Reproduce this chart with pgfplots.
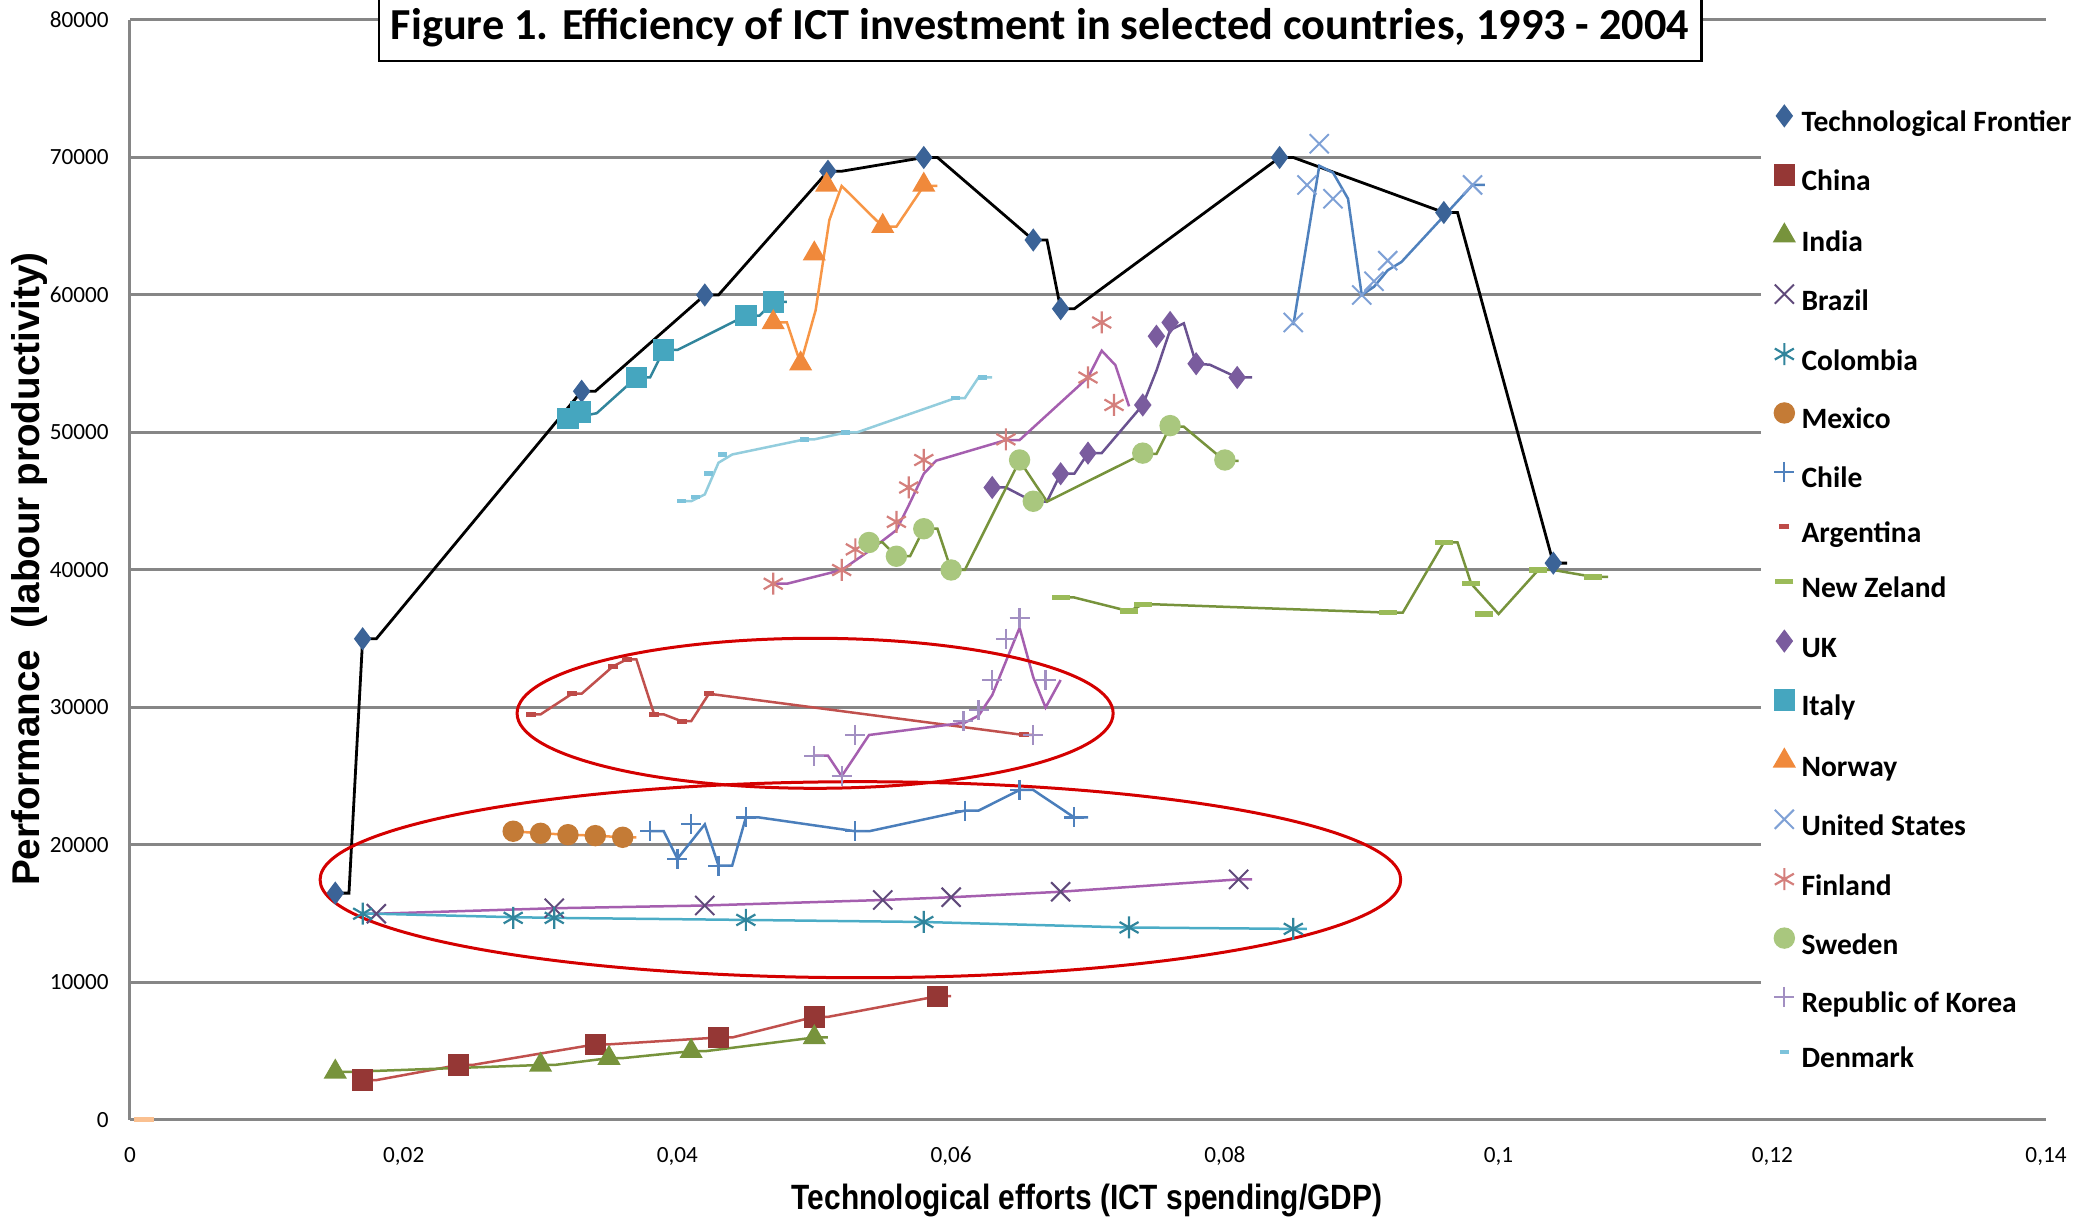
\documentclass[border=0pt]{standalone}
\usepackage{fontspec}
\setmainfont{Carlito}
\newfontfamily\arialfont{Liberation Sans}
\newfontfamily\narrowfont{Liberation Sans}[FakeStretch=0.85]
\usepackage{pgfplots}
\pgfplotsset{compat=1.18}
\definecolor{gridgray}{HTML}{868686}
\definecolor{frontMk}{HTML}{3B6397}
\definecolor{chinaMk}{HTML}{953735}
\definecolor{chinaLn}{HTML}{C0504D}
\definecolor{indiaMk}{HTML}{77933C}
\definecolor{brazilMk}{HTML}{604A7B}
\definecolor{purpLn}{HTML}{A55FAF}
\definecolor{colMk}{HTML}{31859C}
\definecolor{colLn}{HTML}{4BACC6}
\definecolor{mexMk}{HTML}{C47B36}
\definecolor{mexLn}{HTML}{F79646}
\definecolor{chileMk}{HTML}{4F81BD}
\definecolor{chileLn}{HTML}{4A7EBB}
\definecolor{argMk}{HTML}{BE4B48}
\definecolor{nzMk}{HTML}{9BBB59}
\definecolor{greenLn}{HTML}{77933C}
\definecolor{ukMk}{HTML}{7A5C9E}
\definecolor{ukLn}{HTML}{6A5290}
\definecolor{italyMk}{HTML}{45A6BF}
\definecolor{italyLn}{HTML}{31859C}
\definecolor{norMk}{HTML}{F0893B}
\definecolor{norLn}{HTML}{F79646}
\definecolor{usMk}{HTML}{7FA1D6}
\definecolor{usLn}{HTML}{4F81BD}
\definecolor{finMk}{HTML}{D47F7C}
\definecolor{sweMk}{HTML}{A9C77E}
\definecolor{korMk}{HTML}{A28FC2}
\definecolor{denMk}{HTML}{7DC3DB}
\definecolor{denLn}{HTML}{93CDDD}
\definecolor{peach}{HTML}{FAC090}
\definecolor{ellRed}{HTML}{D40000}
\pgfplotsset{mk/.style={only marks, legend image code/.code={\draw[##1] plot coordinates {(0mm,0.9mm)}; \path (-1.1mm,0mm) (1.65mm,0mm);}}}
\begin{document}
\begin{tikzpicture}
\begin{axis}[name=ax,
  scale only axis, width=191.6mm, height=110mm,
  xmin=0, xmax=0.14, ymin=0, ymax=80000,
  clip=false,
  axis lines*=left,
  axis line style={gridgray, line width=0.3mm, -},
  major tick length=0pt,
  ymajorgrids, grid style={gridgray, line width=0.3mm},
  xtick={0,0.02,0.04,0.06,0.08,0.1,0.12,0.14},
  xticklabels={0,{0,02},{0,04},{0,06},{0,08},{0,1},{0,12},{0,14}},
  ytick={0,10000,20000,30000,40000,50000,60000,70000,80000},
  yticklabels={0,10000,20000,30000,40000,50000,60000,70000,80000},
  xticklabel style={font=\fontsize{6.6}{8}\selectfont, anchor=base, yshift=-4.3mm, inner sep=0pt},
  yticklabel style={font=\fontsize{6.6}{8}\selectfont, anchor=east, xshift=-2.06mm, inner sep=0pt},
  legend style={at={(rel axis cs:0.8507,0.936)}, anchor=north west, draw=none, fill=white,
    inner xsep=1.2mm, inner ysep=1.43mm, row sep=2.49mm,
    font=\bfseries\fontsize{8.4}{10}\selectfont,
    nodes={inner sep=0pt, text height=2.2mm, text depth=0.8mm}},
  legend cell align=left,
]
% Technological Frontier
\addplot[black, line width=0.28mm, forget plot] coordinates {(0.015,16500)(0.016,16500)(0.017,35000)(0.018,35000)(0.033,53000)(0.034,53000)(0.042,60000)(0.043,60000)(0.051,69000)(0.052,69000)(0.058,70000)(0.059,70000)(0.066,64000)(0.067,64000)(0.068,59000)(0.069,59000)(0.084,70000)(0.085,70000)(0.096,66000)(0.097,66000)(0.104,40500)(0.105,40500)};
\addplot[mk, mark=diamond*, mark size=1.05mm, color=frontMk] coordinates {(0.015,16500)(0.017,35000)(0.033,53000)(0.042,60000)(0.051,69000)(0.058,70000)(0.066,64000)(0.068,59000)(0.084,70000)(0.096,66000)(0.104,40500)};
\addlegendentry{Technological Frontier}
% China
\addplot[chinaLn, line width=0.25mm, forget plot] coordinates {(0.017,2900)(0.018,2900)(0.024,4000)(0.025,4000)(0.034,5500)(0.035,5500)(0.043,6000)(0.044,6000)(0.050,7500)(0.051,7500)(0.059,9000)(0.060,9000)};
\addplot[mk, mark=square*, mark size=1mm, color=chinaMk] coordinates {(0.017,2900)(0.024,4000)(0.034,5500)(0.043,6000)(0.050,7500)(0.059,9000)};
\addlegendentry{China}
% India
\addplot[greenLn, line width=0.25mm, forget plot] coordinates {(0.015,3500)(0.016,3500)(0.030,4000)(0.031,4000)(0.035,4500)(0.036,4500)(0.041,5000)(0.042,5000)(0.050,6000)(0.051,6000)};
\addplot[mk, mark=triangle*, mark size=1.2mm, color=indiaMk] coordinates {(0.015,3500)(0.030,4000)(0.035,4500)(0.041,5000)(0.050,6000)};
\addlegendentry{India}
% Brazil
\addplot[purpLn, line width=0.25mm, forget plot] coordinates {(0.017,15000)(0.018,15000)(0.031,15400)(0.042,15600)(0.055,16000)(0.060,16200)(0.068,16600)(0.081,17500)(0.082,17500)};
\addplot[mk, mark=x, mark size=1.35mm, color=brazilMk, mark options={line width=0.2mm}] coordinates {(0.018,15000)(0.031,15400)(0.042,15600)(0.055,16000)(0.060,16200)(0.068,16600)(0.081,17500)};
\addlegendentry{Brazil}
% Colombia
\addplot[colLn, line width=0.25mm, forget plot] coordinates {(0.017,15000)(0.018,15000)(0.028,14750)(0.031,14700)(0.045,14550)(0.058,14400)(0.073,14000)(0.085,13900)(0.086,13900)};
\addplot[mk, mark=asterisk, mark size=1.1mm, color=colMk, mark options={line width=0.22mm}] coordinates {(0.017,15000)(0.028,14700)(0.031,14700)(0.045,14550)(0.058,14400)(0.073,14000)(0.085,13900)};
\addlegendentry{Colombia}
% Mexico
\addplot[mexLn, line width=0.25mm, forget plot] coordinates {(0.028,21000)(0.030,20850)(0.032,20750)(0.034,20680)(0.036,20560)(0.037,20550)};
\addplot[mk, mark=*, mark size=1mm, color=mexMk] coordinates {(0.028,21000)(0.030,20850)(0.032,20750)(0.034,20680)(0.036,20560)};
\addlegendentry{Mexico}
% Chile
\addplot[chileLn, line width=0.25mm, forget plot] coordinates {(0.038,21000)(0.039,21000)(0.040,19000)(0.042,21500)(0.043,18500)(0.044,18500)(0.045,22000)(0.046,22000)(0.053,21000)(0.054,21000)(0.061,22500)(0.062,22500)(0.065,24000)(0.066,24000)(0.069,22000)(0.070,22000)};
\addplot[mk, mark=+, mark size=1mm, color=chileMk, mark options={line width=0.22mm}] coordinates {(0.038,21000)(0.040,19000)(0.041,21500)(0.043,18500)(0.045,22000)(0.053,21000)(0.061,22500)(0.065,24000)(0.069,22000)};
\addlegendentry{Chile}
% Argentina
\addplot[chinaLn, line width=0.25mm, forget plot] coordinates {(0.0293,29500)(0.0300,29500)(0.0323,31000)(0.0330,31000)(0.0353,33000)(0.0363,33500)(0.0370,33500)(0.0383,29500)(0.0390,29500)(0.0403,29000)(0.0410,29000)(0.0423,31000)(0.0653,28000)(0.0660,28000)};
\addplot[mk, mark=-, mark size=0.5mm, color=argMk, mark options={line width=0.5mm}] coordinates {(0.0293,29500)(0.0323,31000)(0.0353,33000)(0.0363,33500)(0.0383,29500)(0.0403,29000)(0.0423,31000)(0.0653,28000)};
\addlegendentry{Argentina}
% New Zeland
\addplot[greenLn, line width=0.25mm, forget plot] coordinates {(0.068,38000)(0.069,38000)(0.073,37000)(0.074,37500)(0.075,37500)(0.0919,36900)(0.093,36900)(0.096,42000)(0.097,42000)(0.098,39000)(0.100,36800)(0.1029,40000)(0.104,40000)(0.1069,39500)(0.108,39500)};
\addplot[mk, mark=-, mark size=0.9mm, color=nzMk, mark options={line width=0.55mm}] coordinates {(0.068,38000)(0.073,37000)(0.074,37500)(0.0919,36900)(0.096,42000)(0.098,39000)(0.0989,36800)(0.1029,40000)(0.1069,39500)};
\addlegendentry{New Zeland}
% UK
\addplot[ukLn, line width=0.25mm, forget plot] coordinates {(0.063,46000)(0.064,46000)(0.066,44970)(0.067,44970)(0.068,47000)(0.069,47000)(0.070,48500)(0.071,48500)(0.074,52000)(0.075,54500)(0.076,57450)(0.077,57940)(0.0779,55000)(0.0789,54930)(0.0809,54000)(0.082,54000)};
\addplot[mk, mark=diamond*, mark size=1.05mm, color=ukMk] coordinates {(0.063,46000)(0.068,47000)(0.070,48500)(0.074,52000)(0.075,57000)(0.076,58000)(0.0779,55000)(0.0809,54000)};
\addlegendentry{UK}
% Italy
\addplot[italyLn, line width=0.25mm, forget plot] coordinates {(0.032,51000)(0.0341,51400)(0.037,54000)(0.038,54000)(0.039,56000)(0.040,56000)(0.045,58500)(0.046,58500)(0.047,59500)(0.048,59500)};
\addplot[mk, mark=square*, mark size=1mm, color=italyMk] coordinates {(0.032,51000)(0.0329,51500)(0.037,54000)(0.039,56000)(0.045,58500)(0.047,59500)};
\addlegendentry{Italy}
% Norway
\addplot[norLn, line width=0.25mm, forget plot] coordinates {(0.047,58000)(0.048,58000)(0.049,55000)(0.0501,58900)(0.0511,65450)(0.052,67930)(0.055,64970)(0.056,64970)(0.058,67930)(0.059,67930)};
\addplot[mk, mark=triangle*, mark size=1.2mm, color=norMk] coordinates {(0.047,58000)(0.049,55000)(0.050,63000)(0.0509,68000)(0.055,65000)(0.058,68000)};
\addlegendentry{Norway}
% United States
\addplot[usLn, line width=0.25mm, forget plot] coordinates {(0.085,57800)(0.0869,69400)(0.0879,68900)(0.089,67000)(0.090,60000)(0.0909,60600)(0.0919,61800)(0.0929,62400)(0.0981,68000)(0.099,68000)};
\addplot[mk, mark=x, mark size=1.35mm, color=usMk, mark options={line width=0.2mm}] coordinates {(0.085,58000)(0.086,68000)(0.0869,71000)(0.0879,67000)(0.090,60000)(0.0909,61000)(0.0919,62500)(0.0981,68000)};
\addlegendentry{United States}
% Finland
\addplot[purpLn, line width=0.25mm, forget plot] coordinates {(0.047,39000)(0.048,39000)(0.052,40000)(0.0541,41450)(0.056,42900)(0.0569,44700)(0.058,47000)(0.0589,47950)(0.064,49450)(0.065,49450)(0.070,54000)(0.071,55950)(0.072,54900)(0.073,51900)};
\addplot[mk, mark=asterisk, mark size=1.1mm, color=finMk, mark options={line width=0.22mm}] coordinates {(0.047,39000)(0.052,40000)(0.053,41500)(0.056,43500)(0.0569,46000)(0.058,48000)(0.064,49500)(0.070,54000)(0.071,58000)(0.0719,52000)};
\addlegendentry{Finland}
% Sweden
\addplot[greenLn, line width=0.25mm, forget plot] coordinates {(0.054,42000)(0.055,42000)(0.056,41000)(0.057,41000)(0.058,43000)(0.059,43000)(0.060,40000)(0.061,40000)(0.065,47950)(0.067,44970)(0.074,48440)(0.075,48440)(0.076,50420)(0.077,50420)(0.080,47930)(0.081,47930)};
\addplot[mk, mark=*, mark size=1mm, color=sweMk] coordinates {(0.054,42000)(0.056,41000)(0.058,43000)(0.060,40000)(0.065,48000)(0.066,45000)(0.074,48500)(0.076,50500)(0.080,48000)};
\addlegendentry{Sweden}
% Republic of Korea
\addplot[purpLn, line width=0.25mm, forget plot] coordinates {(0.050,26500)(0.051,26500)(0.052,25000)(0.054,28000)(0.061,28900)(0.062,29400)(0.063,30900)(0.065,35800)(0.066,32200)(0.0669,30000)(0.068,32000)};
\addplot[mk, mark=+, mark size=1mm, color=korMk, mark options={line width=0.22mm}] coordinates {(0.050,26500)(0.052,25000)(0.053,28000)(0.0609,29000)(0.062,29800)(0.063,32000)(0.064,35000)(0.065,36500)(0.066,28000)(0.0669,32000)};
\addlegendentry{Republic of Korea}
% Denmark
\addplot[denLn, line width=0.25mm, forget plot] coordinates {(0.0403,45000)(0.041,45000)(0.042,45500)(0.043,47800)(0.044,48400)(0.0493,49500)(0.050,49500)(0.0523,50000)(0.0531,50000)(0.0603,52500)(0.061,52500)(0.062,54000)(0.063,54000)};
\addplot[mk, mark=-, mark size=0.45mm, color=denMk, mark options={line width=0.45mm}] coordinates {(0.0403,45000)(0.0413,45300)(0.0423,47000)(0.0433,48400)(0.0493,49500)(0.0523,50000)(0.0603,52500)(0.0623,54000)};
\addlegendentry{Denmark}
% stray point
\addplot[only marks, mark=-, mark size=1mm, color=peach, mark options={line width=0.5mm}, forget plot] coordinates {(0.001,0)};
% annotations
\draw[ellRed, line width=0.3mm] (axis cs:0.05006,29578) ellipse [x radius=0.021776, y radius=5455];
\draw[ellRed, line width=0.3mm] (axis cs:0.05337,17476) ellipse [x radius=0.03948, y radius=7127];
\node[draw=black, fill=white, line width=0.25mm, inner xsep=1.2mm, minimum height=6.6mm,
  font=\bfseries\fontsize{12.6}{15}\selectfont] at (rel axis cs:0.475,0.9927)
  {Figure 1. Efficiency of ICT investment in selected countries, 1993 - 2004};
\node[rotate=90, font=\arialfont\bfseries\fontsize{11}{13}\selectfont] at (rel axis cs:-0.0527,0.5009)
  {Performance\ \ (labour productivity)};
\node[font=\narrowfont\bfseries\fontsize{10}{12}\selectfont] at (rel axis cs:0.4995,-0.0736)
  {Technological efforts (ICT spending/GDP)};
\end{axis}
\pgfresetboundingbox
\path[use as bounding box] ([shift={(-13mm,-9.9mm)}]ax.south west) rectangle ([shift={(3mm,2mm)}]ax.north east);
\end{tikzpicture}
\end{document}
